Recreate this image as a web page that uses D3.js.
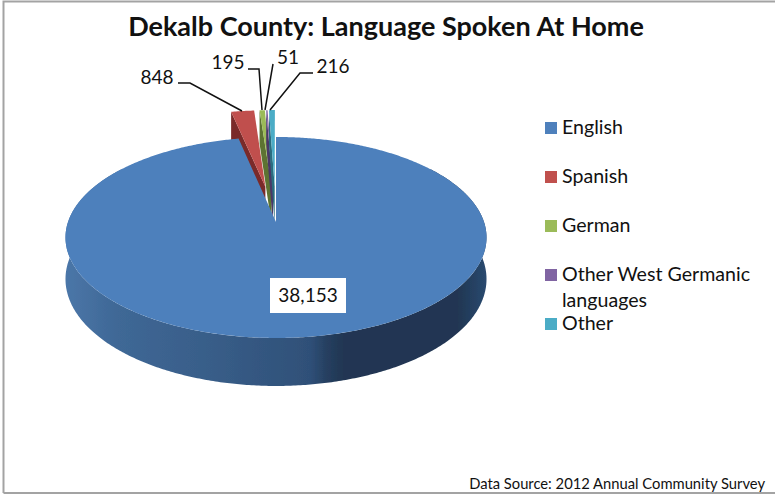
<!DOCTYPE html>
<html><head><meta charset="utf-8">
<script src="https://cdn.jsdelivr.net/npm/d3@7"></script>
<style>html,body{margin:0;padding:0;background:#fff}svg{display:block}text{font-family:Lato,"Noto Sans",sans-serif;fill:#111}</style>
</head><body><div id="c"></div>
<script>
const categories = ["English","Spanish","German","Other West Germanic languages","Other"];
const values = [38153,848,195,51,216];
const valueLabels = ["38,153","848","195","51","216"];
const colors = ["#4e80bc","#c0504d","#9bbb59","#8064a2","#4bacc6"];
const sideColors = ["#2d4c73","#7a2b29","#5d7330","#4a3768","#2b6d80"];

const W=775,H=498;
const svg=d3.select("#c").append("svg").attr("width",W).attr("height",H);
const defs=svg.append("defs");
const grad=defs.append("linearGradient").attr("id","wall").attr("gradientUnits","userSpaceOnUse").attr("x1",66).attr("x2",487).attr("y1",0).attr("y2",0);
[[0,"#4b76a8"],[.12,"#3f6896"],[.35,"#385d88"],[.58,"#2f5078"],[.62,"#263f60"],[.66,"#203652"],[.93,"#203652"],[1,"#2a4a70"]]
 .forEach(s=>grad.append("stop").attr("offset",s[0]).attr("stop-color",s[1]));
defs.append("filter").attr("id","soft").append("feGaussianBlur").attr("stdDeviation",0.5);

// frame
svg.append("path").attr("d",`M3.5,${H-5}V1.5H${W}M3.5,${H-5}H${W}`).attr("fill","none").attr("stroke","#a3a3a3").attr("stroke-width",2);

// pie in unit-circle space, projected with a perspective map
const TAU=2*Math.PI;
const arcs=d3.pie().sort(null).startAngle(0).endAngle(TAU)(values);
const cx=276,cy=222,ra=208,rb=98.1,k=0.154,depth=40.6,explode=0.384;
const P=(u,v,z)=>{const s=1/(1-k*v);return [cx+ra*u*s,cy+(rb*v+depth*z)*s];};
const line=d3.line();
const rim=(a0,a1,ex,ey,z)=>{const n=Math.max(2,Math.ceil((a1-a0)/0.01));
  return d3.range(n+1).map(i=>{const t=a0+(a1-a0)*i/n;return P(Math.sin(t)+ex,-Math.cos(t)+ey,z);});};
const g=svg.append("g").attr("filter","url(#soft)");

// exploded small slices, behind the main slice
arcs.slice(1).forEach(d=>{
  const m=(d.startAngle+d.endAngle)/2, ex=explode*Math.sin(m), ey=-explode*Math.cos(m);
  const apex=[ex,ey];
  const s=[Math.sin(d.startAngle)+ex,-Math.cos(d.startAngle)+ey];
  g.append("path").attr("fill",sideColors[d.index])
    .attr("d",line([P(apex[0],apex[1],0),P(s[0],s[1],0),P(s[0],s[1],1),P(apex[0],apex[1],1)])+"Z");
  g.append("path").attr("fill",colors[d.index])
    .attr("d",line([P(apex[0],apex[1],0),...rim(d.startAngle,d.endAngle,ex,ey,0)])+"Z");
});

// main slice: outer wall then top
const e=arcs[0];
const front=rim(Math.PI*0.3,Math.PI*1.7,0,0,0), frontB=rim(Math.PI*0.3,Math.PI*1.7,0,0,1).reverse();
g.append("path").attr("fill","url(#wall)").attr("d",line([...front,...frontB])+"Z");
g.append("path").attr("fill",colors[0]).attr("d",line([P(0,0,0),...rim(e.startAngle,e.endAngle,0,0,0)])+"Z");

// title & note
svg.append("text").attr("x",386).attr("y",36).attr("text-anchor","middle").attr("font-size",27).attr("font-weight",700).text("Dekalb County: Language Spoken At Home");
svg.append("text").attr("x",765).attr("y",489).attr("text-anchor","end").attr("font-size",14.75).text("Data Source: 2012 Annual Community Survey");

// data labels
svg.append("rect").attr("x",270).attr("y",278).attr("width",76).attr("height",35).attr("fill","#fff");
const labelPos=[[308,302,"middle"],[157,84,"middle"],[228,69,"middle"],[288,64,"middle"],[333,73,"middle"]];
svg.selectAll("text.dl").data(valueLabels).join("text").attr("class","dl")
  .attr("x",(d,i)=>labelPos[i][0]).attr("y",(d,i)=>labelPos[i][1]).attr("text-anchor","middle").attr("font-size",19).text(d=>d);
const leaders=[[[178,83],[190,83],[242,111]],[[248,69],[259,69],[262,110]],[[273,64],[265,110]],[[313,73],[300,73],[270,110]]];
svg.selectAll("path.ld").data(leaders).join("path").attr("class","ld").attr("fill","none").attr("stroke","#111").attr("stroke-width",1.5).attr("d",d=>line(d));

// legend
const legY=[128,177,226,275,324];
const leg=svg.selectAll("g.lg").data(categories).join("g").attr("class","lg");
leg.append("rect").attr("x",545).attr("y",(d,i)=>legY[i]-6).attr("width",12).attr("height",12).attr("fill",(d,i)=>colors[i]);
leg.each(function(d,i){
  const t=d3.select(this).append("text").attr("x",562).attr("font-size",19.6);
  const parts=i===3?["Other West Germanic","languages"]:[d];
  parts.forEach((p,j)=>t.append("tspan").attr("x",562).attr("y",legY[i]+6+j*26).text(p));
});
</script></body></html>
